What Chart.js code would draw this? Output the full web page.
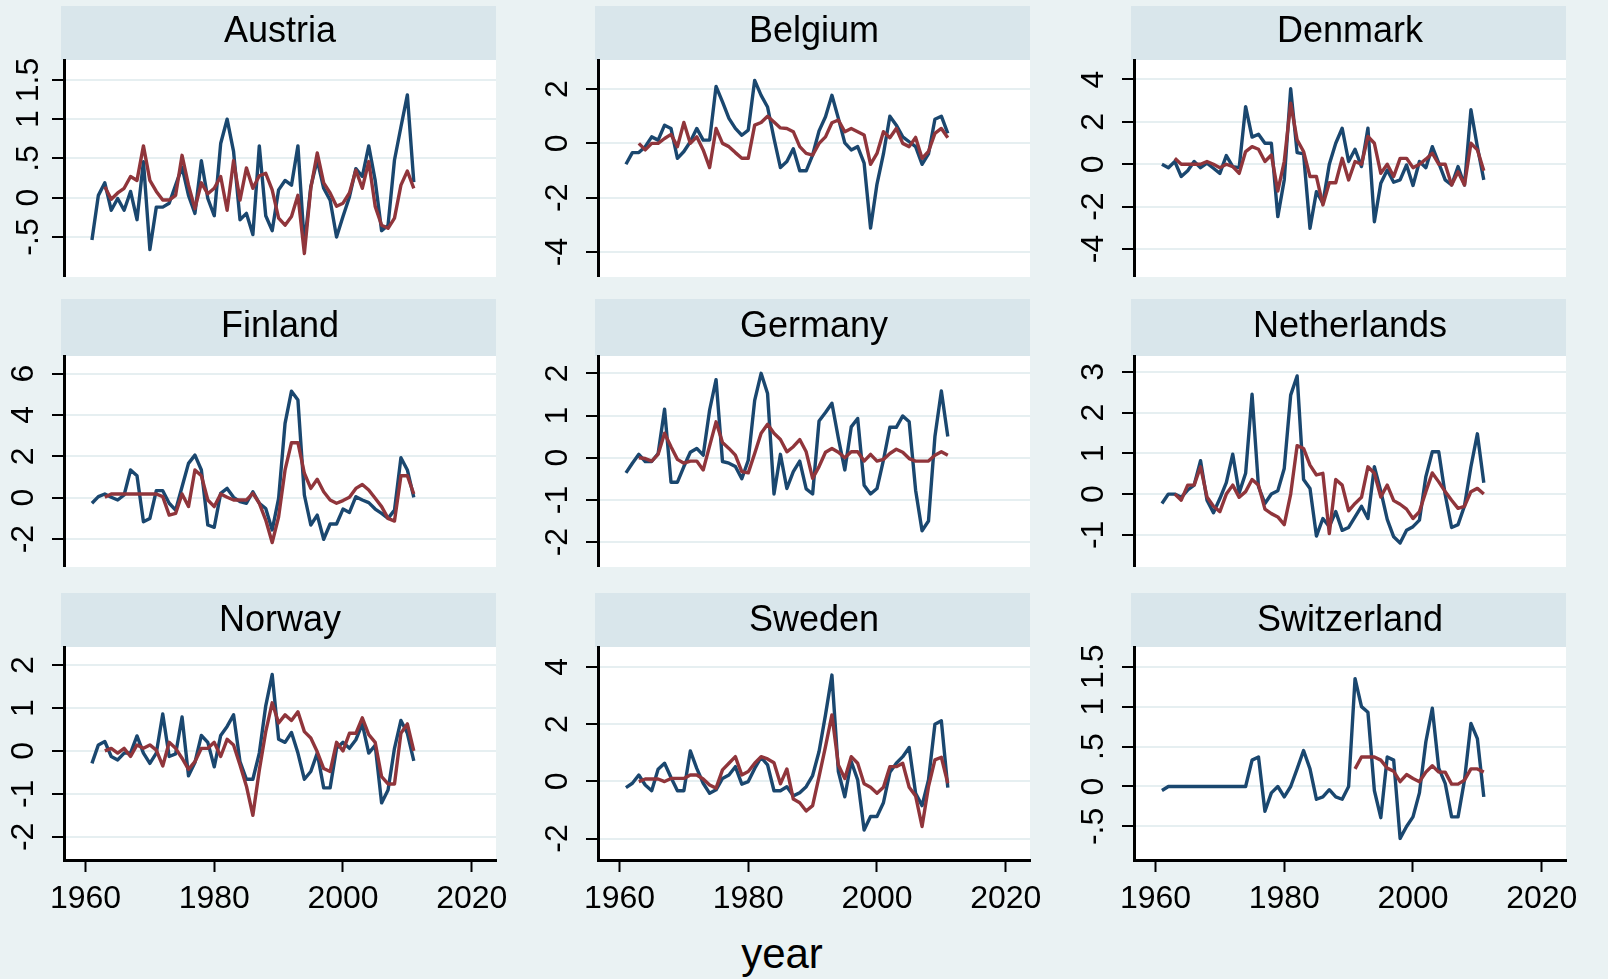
<!DOCTYPE html>
<html>
<head>
<meta charset="utf-8">
<script src="https://cdn.jsdelivr.net/npm/chart.js@4.4.1/dist/chart.umd.min.js"></script>
<style>
  html, body { margin: 0; padding: 0; background: #eaf2f3; }
  body { width: 1608px; height: 979px; position: relative; overflow: hidden; }
  canvas { position: absolute; }
  #xtitle {
    position: absolute; left: 682px; top: 933px; width: 200px;
    text-align: center; color: #000;
    font: 42px/42px "Liberation Sans", Arial, sans-serif;
  }
</style>
</head>
<body>
<div id="xtitle">year</div>
<script>
// x categories
const years = [1961, 1962, 1963, 1964, 1965, 1966, 1967, 1968, 1969, 1970,
  1971, 1972, 1973, 1974, 1975, 1976, 1977, 1978, 1979, 1980,
  1981, 1982, 1983, 1984, 1985, 1986, 1987, 1988, 1989, 1990,
  1991, 1992, 1993, 1994, 1995, 1996, 1997, 1998, 1999, 2000,
  2001, 2002, 2003, 2004, 2005, 2006, 2007, 2008, 2009, 2010, 2011];
const xTicks = [1960, 1980, 2000, 2020];

// blue series start in 1961, red series in 1963 (Switzerland: 1991)
const redStart = 1963;
const swissRedStart = 1991;

const austriaBlue = [-0.54, 0.03, 0.19, -0.16, -0.01, -0.16, 0.08, -0.28, 0.46, -0.66, -0.12, -0.12, -0.07, 0.16, 0.39, 0.03, -0.2, 0.47, -0.01, -0.23, 0.69, 1.0, 0.59, -0.28, -0.2, -0.47, 0.66, -0.23, -0.42, 0.1, 0.22, 0.16, 0.66, -0.6, 0.14, 0.48, 0.12, -0.03, -0.5, -0.24, 0.01, 0.37, 0.27, 0.66, 0.22, -0.42, -0.35, 0.48, 0.9, 1.31, 0.2];
const austriaRed = [0.14, -0.02, 0.06, 0.12, 0.27, 0.22, 0.66, 0.22, 0.08, -0.03, -0.03, 0.03, 0.54, 0.16, -0.14, 0.19, 0.05, 0.12, 0.27, -0.16, 0.47, -0.03, 0.38, 0.12, 0.28, 0.31, 0.1, -0.26, -0.35, -0.24, 0.03, -0.71, 0.12, 0.57, 0.19, 0.06, -0.11, -0.07, 0.06, 0.35, 0.12, 0.46, -0.11, -0.35, -0.39, -0.26, 0.16, 0.34, 0.12];

const belgiumBlue = [-0.77, -0.34, -0.34, -0.12, 0.24, 0.12, 0.67, 0.55, -0.55, -0.3, 0.06, 0.55, 0.12, 0.12, 2.1, 1.53, 0.92, 0.55, 0.3, 0.49, 2.32, 1.77, 1.34, 0.18, -0.89, -0.67, -0.2, -1.01, -1.01, -0.43, 0.46, 0.98, 1.77, 0.92, 0.02, -0.24, -0.12, -0.73, -3.12, -1.5, -0.39, 1.0, 0.67, 0.24, 0.06, -0.12, -0.77, -0.39, 0.89, 1.0, 0.37];
const belgiumRed = [0, -0.24, 0, 0, 0.18, 0.33, -0.12, 0.77, 0, 0.24, -0.24, -0.89, 0.55, 0, -0.12, -0.34, -0.55, -0.55, 0.67, 0.77, 1.0, 0.79, 0.57, 0.55, 0.43, -0.12, -0.37, -0.43, 0, 0.24, 0.76, 0.86, 0.43, 0.55, 0.43, 0.31, -0.77, -0.37, 0.43, 0.21, 0.55, 0, -0.12, 0.22, -0.55, -0.3, 0.37, 0.55, 0.21];

const denmarkBlue = [0, -0.16, 0.13, -0.58, -0.31, 0.13, -0.16, 0.05, -0.19, -0.43, 0.41, -0.11, -0.16, 2.72, 1.28, 1.42, 0.99, 0.99, -2.47, -0.74, 3.56, 0.55, 0.49, -3.02, -1.29, -1.84, 0, 0.99, 1.7, 0.13, 0.71, -0.11, 1.7, -2.71, -0.9, -0.27, -0.85, -0.74, -0.03, -1.0, 0.13, -0.16, 0.83, 0.05, -0.74, -0.98, -0.11, -0.98, 2.57, 0.83, -0.74];
const denmarkRed = [0.28, 0, 0, 0, 0, 0.13, 0, -0.16, 0, -0.11, -0.43, 0.6, 0.83, 0.71, 0.13, 0.44, -1.26, 0.13, 2.88, 1.15, 0.6, -0.58, -0.58, -1.92, -0.87, -0.87, 0.28, -0.74, 0.13, 0, 1.31, 0.99, -0.43, 0, -0.58, 0.28, 0.28, -0.16, 0, 0.24, 0.52, 0, 0, -0.98, -0.35, -0.98, 0.99, 0.68, -0.31];

const finlandBlue = [-0.27, 0.05, 0.18, 0.02, -0.11, 0.13, 1.34, 1.06, -1.16, -1.0, 0.34, 0.34, -0.27, -0.6, 0.53, 1.66, 2.06, 1.34, -1.32, -1.43, 0.21, 0.45, 0.02, -0.19, -0.27, 0.29, -0.27, -0.52, -1.56, -0.03, 3.59, 5.15, 4.72, 0.13, -1.32, -0.84, -2.01, -1.27, -1.27, -0.55, -0.71, 0.05, -0.11, -0.24, -0.55, -0.76, -1.0, -0.6, 1.93, 1.34, 0.02];
const finlandRed = [0.02, 0.18, 0.18, 0.18, 0.18, 0.18, 0.18, 0.18, 0.18, 0.05, -0.84, -0.76, 0.18, -0.43, 1.34, 1.06, -0.11, -0.43, 0.18, 0.02, -0.11, -0.11, -0.11, 0.21, -0.27, -1.08, -2.17, -0.92, 1.34, 2.66, 2.66, 1.18, 0.45, 0.89, 0.29, -0.11, -0.27, -0.14, 0.02, 0.45, 0.64, 0.37, -0.03, -0.43, -1.0, -1.13, 1.06, 1.06, 0.18];

const germanyBlue = [-0.36, -0.13, 0.08, -0.09, -0.09, 0.1, 1.15, -0.58, -0.58, -0.21, 0.13, 0.22, 0.06, 1.13, 1.85, -0.09, -0.13, -0.21, -0.5, -0.06, 1.36, 2.0, 1.52, -0.86, 0.08, -0.73, -0.33, -0.08, -0.74, -0.86, 0.87, 1.07, 1.29, 0.46, -0.29, 0.73, 0.93, -0.65, -0.86, -0.73, -0.06, 0.72, 0.72, 0.99, 0.85, -0.77, -1.73, -1.5, 0.5, 1.58, 0.5];
const germanyRed = [0, -0.02, -0.08, 0.08, 0.58, 0.26, -0.04, -0.13, -0.08, -0.08, -0.29, 0.28, 0.85, 0.36, 0.22, 0.06, -0.33, -0.36, 0.1, 0.58, 0.79, 0.58, 0.43, 0.14, 0.26, 0.43, 0.14, -0.49, -0.21, 0.13, 0.22, 0.13, 0, 0.14, 0.14, -0.08, 0.08, -0.08, -0.04, 0.1, 0.2, 0.13, -0.02, -0.08, -0.08, -0.08, 0.06, 0.14, 0.06];

const netherlandsBlue = [-0.23, 0, 0, -0.08, 0.1, 0.22, 0.82, -0.15, -0.46, -0.11, 0.28, 0.98, 0.03, 0.51, 2.45, 0.18, -0.23, 0, 0.08, 0.63, 2.43, 2.9, 0.36, 0.14, -1.03, -0.6, -0.8, -0.43, -0.89, -0.82, -0.56, -0.3, -0.6, 0.67, 0.07, -0.62, -1.05, -1.2, -0.89, -0.8, -0.64, 0.43, 1.04, 1.04, -0.01, -0.82, -0.75, -0.29, 0.67, 1.48, 0.28];
const netherlandsRed = [0, -0.15, 0.22, 0.22, 0.67, -0.07, -0.3, -0.43, 0, 0.22, -0.08, 0.06, 0.36, 0.22, -0.37, -0.48, -0.56, -0.75, 0, 1.19, 1.12, 0.71, 0.47, 0.51, -0.97, 0.36, 0.22, -0.41, -0.23, -0.08, 0.67, 0.51, -0.07, 0.22, -0.16, -0.25, -0.37, -0.6, -0.43, 0.06, 0.52, 0.3, 0.06, -0.15, -0.35, -0.3, 0.06, 0.14, 0];

const norwayBlue = [-0.29, 0.14, 0.22, -0.13, -0.21, -0.05, -0.05, 0.35, -0.05, -0.29, -0.05, 0.86, -0.13, -0.07, 0.79, -0.58, -0.27, 0.36, 0.2, -0.37, 0.36, 0.57, 0.84, -0.25, -0.66, -0.66, -0.05, 1.05, 1.78, 0.27, 0.2, 0.43, -0.05, -0.66, -0.48, -0.05, -0.86, -0.86, 0.06, 0.2, 0.06, 0.26, 0.63, -0.05, 0.13, -1.21, -0.91, 0.06, 0.71, 0.41, -0.23];
const norwayRed = [0, 0.06, -0.05, 0.06, -0.13, 0.14, 0.06, 0.14, 0.02, -0.35, 0.2, 0.06, -0.17, -0.43, -0.25, 0.06, 0.06, 0.2, -0.13, 0.27, 0.14, -0.33, -0.82, -1.5, -0.45, 0.45, 1.12, 0.65, 0.84, 0.71, 0.91, 0.45, 0.3, -0.02, -0.41, -0.48, 0.2, 0, 0.41, 0.41, 0.77, 0.38, 0.2, -0.6, -0.77, -0.77, 0.41, 0.63, 0];

const swedenBlue = [-0.22, -0.07, 0.22, -0.13, -0.33, 0.42, 0.63, 0.13, -0.33, -0.33, 1.06, 0.45, -0.07, -0.42, -0.3, 0.1, 0.22, 0.51, -0.1, -0.01, 0.45, 0.83, 0.57, -0.33, -0.33, -0.19, -0.51, -0.4, -0.19, 0.2, 1.04, 2.32, 3.71, 0.34, -0.54, 0.69, 0.05, -1.7, -1.23, -1.23, -0.75, 0.31, 0.63, 0.86, 1.18, -0.42, -0.85, 0.05, 1.99, 2.11, -0.22];
const swedenRed = [-0.01, 0.08, 0.08, 0.08, -0.01, 0.1, 0.1, 0.1, 0.22, 0.22, 0.08, -0.13, -0.24, 0.4, 0.63, 0.86, 0.22, 0.34, 0.63, 0.86, 0.78, 0.65, -0.09, 0.43, -0.62, -0.75, -1.04, -0.85, 0.16, 1.21, 2.32, 0.57, 0.1, 0.86, 0.63, -0.09, -0.21, -0.42, -0.21, 0.51, 0.51, 0.63, -0.21, -0.51, -1.58, -0.19, 0.75, 0.84, -0.07];

const switzerlandBlue = [-0.05, 0, 0, 0, 0, 0, 0, 0, 0, 0, 0, 0, 0, 0, 0.33, 0.37, -0.31, -0.08, 0, -0.13, 0, 0.22, 0.45, 0.22, -0.16, -0.13, -0.04, -0.13, -0.16, 0, 1.35, 1.0, 0.93, -0.05, -0.39, 0.37, 0.33, -0.65, -0.5, -0.38, -0.08, 0.56, 0.98, 0.23, 0.04, -0.38, -0.38, 0.08, 0.79, 0.6, -0.13];
const switzerlandRed = [0.22, 0.37, 0.37, 0.37, 0.33, 0.23, 0.19, 0.06, 0.15, 0.1, 0.06, 0.18, 0.26, 0.18, 0.18, 0.03, 0.03, 0.08, 0.22, 0.22, 0.18];

// y tick labels per panel
const austriaTicks = [-0.5, 0, 0.5, 1, 1.5];
const belgiumTicks = [-4, -2, 0, 2];
const denmarkTicks = [-4, -2, 0, 2, 4];
const finlandTicks = [-2, 0, 2, 4, 6];
const germanyTicks = [-2, -1, 0, 1, 2];
const netherlandsTicks = [-1, 0, 1, 2, 3];
const norwayTicks = [-2, -1, 0, 1, 2];
const swedenTicks = [-2, 0, 2, 4];
const switzerlandTicks = [-0.5, 0, 0.5, 1, 1.5];

// ---- layout / style ----
const FONT = "'Liberation Sans', Arial, sans-serif";
const BLUE = '#1a476f';
const RED = '#90353b';
const BAR = '#d9e6eb';
const GRID = '#e6eff1';
const COL_AXIS = [64, 598, 1134];
const ROWS = [
  { top: 6, bar: 54, plot: 217, text: 25.7 },
  { top: 299, bar: 57, plot: 211, text: 27.7 },
  { top: 593, bar: 54, plot: 213, text: 27.6 }
];
const Y_AXIS_W = 64;
const PLOT_W = 432;
const RIGHT_PAD = 45;   // room for the last x tick label
const X_AXIS_H = 70;
const TICK_LEN = 12;
const X_MIN = 1956.66, X_MAX = 2023.77;

const panels = [
  { name: 'Austria', blue: austriaBlue, red: austriaRed, redFrom: redStart, ticks: austriaTicks, min: -1.01, max: 1.754, labelOff: 35 },
  { name: 'Belgium', blue: belgiumBlue, red: belgiumRed, redFrom: redStart, ticks: belgiumTicks, min: -4.92, max: 3.07 },
  { name: 'Denmark', blue: denmarkBlue, red: denmarkRed, redFrom: redStart, ticks: denmarkTicks, min: -5.32, max: 4.92 },
  { name: 'Finland', blue: finlandBlue, red: finlandRed, redFrom: redStart, ticks: finlandTicks, min: -3.35, max: 6.85 },
  { name: 'Germany', blue: germanyBlue, red: germanyRed, redFrom: redStart, ticks: germanyTicks, min: -2.59, max: 2.41 },
  { name: 'Netherlands', blue: netherlandsBlue, red: netherlandsRed, redFrom: redStart, ticks: netherlandsTicks, min: -1.79, max: 3.39 },
  { name: 'Norway', blue: norwayBlue, red: norwayRed, redFrom: redStart, ticks: norwayTicks, min: -2.54, max: 2.42 },
  { name: 'Sweden', blue: swedenBlue, red: swedenRed, redFrom: redStart, ticks: swedenTicks, min: -2.75, max: 4.69 },
  { name: 'Switzerland', blue: switzerlandBlue, red: switzerlandRed, redFrom: swissRedStart, ticks: switzerlandTicks, min: -0.92, max: 1.746 }
];

function points(values, fromYear) {
  const start = years.indexOf(fromYear);
  return values.map((v, i) => ({ x: years[start + i], y: v }));
}

function fmt(v) {
  return String(v).replace(/^(-?)0\./, '$1.');
}

const measure = document.createElement('canvas').getContext('2d');
measure.font = '32px ' + FONT;
function widest(labels) {
  return Math.max(...labels.map(l => measure.measureText(l).width));
}

// title bar + white plot region
const panelBg = {
  id: 'panelBg',
  beforeDraw(chart) {
    const { ctx, chartArea: a } = chart;
    ctx.save();
    ctx.fillStyle = BAR;
    ctx.fillRect(a.left - 3, 0, a.right - a.left + 3, a.top);
    ctx.fillStyle = '#ffffff';
    ctx.fillRect(a.left, a.top, a.right - a.left, a.bottom - a.top);
    ctx.restore();
  }
};

panels.forEach((p, i) => {
  const row = ROWS[Math.floor(i / 3)];
  const col = i % 3;
  const bottomRow = Math.floor(i / 3) === 2;

  const canvas = document.createElement('canvas');
  canvas.width = Y_AXIS_W + PLOT_W + RIGHT_PAD;
  canvas.height = row.bar + row.plot + (bottomRow ? X_AXIS_H : 0);
  canvas.style.left = (COL_AXIS[col] - Y_AXIS_W) + 'px';
  canvas.style.top = row.top + 'px';
  document.body.appendChild(canvas);

  const lh = 36 * 1.2;
  const padTop = row.text - lh / 2;
  const padBottom = row.bar - lh - padTop;
  const labelPad = (p.labelOff || 40) - TICK_LEN - widest(p.ticks.map(fmt)) / 2;

  new Chart(canvas, {
    type: 'line',
    data: {
      datasets: [
        {
          label: p.name + ' (blue)',
          data: points(p.blue, years[0]),
          borderColor: BLUE,
          borderWidth: 3.4,
          pointRadius: 0,
          order: 1
        },
        {
          label: p.name + ' (red)',
          data: points(p.red, p.redFrom),
          borderColor: RED,
          borderWidth: 3.4,
          pointRadius: 0,
          order: 0
        }
      ]
    },
    options: {
      responsive: false,
      animation: false,
      devicePixelRatio: 1,
      elements: { line: { tension: 0, borderJoinStyle: 'round', borderCapStyle: 'butt' } },
      layout: { padding: { left: 0, top: 0, bottom: 0, right: RIGHT_PAD }, autoPadding: false },
      plugins: {
        legend: { display: false },
        tooltip: { enabled: false },
        title: {
          display: true,
          text: p.name,
          fullSize: false,
          color: '#000',
          font: { family: FONT, size: 36, weight: 'normal', lineHeight: 1.2 },
          padding: { top: padTop, bottom: padBottom }
        }
      },
      scales: {
        x: {
          type: 'linear',
          min: X_MIN,
          max: X_MAX,
          display: bottomRow,
          afterBuildTicks: s => { s.ticks = xTicks.map(v => ({ value: v })); },
          afterFit: s => {
            s.height = bottomRow ? X_AXIS_H : 0;
            s.paddingLeft = 0; s.paddingRight = 0;
            s.paddingTop = 0; s.paddingBottom = 0;
          },
          grid: {
            drawOnChartArea: false,
            tickLength: TICK_LEN,
            tickColor: '#000',
            tickWidth: 2
          },
          border: { display: true, color: '#000', width: 3 },
          ticks: {
            autoSkip: false,
            maxRotation: 0,
            padding: 8,
            color: '#000',
            font: { family: FONT, size: 32 },
            callback: v => String(v)
          }
        },
        y: {
          min: p.min,
          max: p.max,
          afterBuildTicks: s => { s.ticks = p.ticks.map(v => ({ value: v })); },
          afterFit: s => {
            s.width = Y_AXIS_W;
            s.paddingLeft = 0; s.paddingRight = 0;
            s.paddingTop = 0; s.paddingBottom = 0;
          },
          grid: {
            color: GRID,
            lineWidth: 2,
            tickLength: TICK_LEN,
            tickColor: '#000',
            tickWidth: 2
          },
          border: { display: true, color: '#000', width: 3 },
          ticks: {
            autoSkip: false,
            minRotation: 90,
            maxRotation: 90,
            crossAlign: 'center',
            padding: labelPad,
            color: '#000',
            font: { family: FONT, size: 32 },
            callback: v => fmt(v)
          }
        }
      }
    },
    plugins: [panelBg]
  });
});
</script>
</body>
</html>
